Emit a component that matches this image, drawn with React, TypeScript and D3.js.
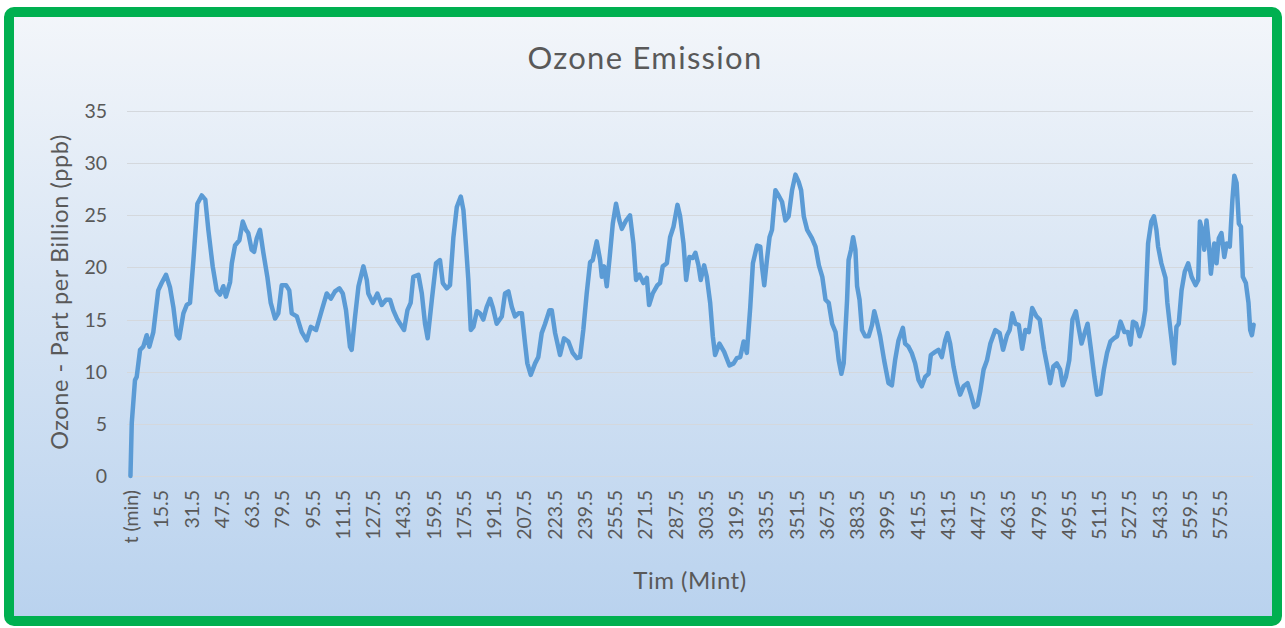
import React, { useEffect, useRef } from "react";
import * as d3 from "d3";

// readings taken off the chart: time (min) and ozone (ppb)
const minutes = [
  0, 0.7, 2.4, 3.3, 5.1, 6.8, 8.6, 10, 12.1, 14.7, 16.5, 18.8, 20.9, 22.7, 24.5, 25.8, 28, 29.8, 31.5, 33.3,
  35.4, 37.7, 39.6, 41.2, 43.5, 45.6, 47.4, 49.1, 50.5, 52.7, 53.6, 55.3, 57.6, 59.4, 61.1, 62.3, 64.1, 65.4,
  66.8, 68.5, 70.3, 72.4, 74.2, 76.5, 78.2, 80, 82.3, 84, 85.3, 88, 90.6, 93.2, 95.4, 98.2, 101.2, 103.8, 106,
  108.2, 110.5, 112.3, 114, 116.1, 117, 118.8, 120.6, 123.2, 125, 125.8, 128.2, 130.6, 132.9, 135.2, 137.3,
  139, 141.2, 142.6, 144.7, 146.5, 148.2, 149.6, 152.3, 154.1, 155.8, 157.2, 159.4, 161.6, 163.7, 165.2,
  167.3, 169, 170.8, 172.6, 174.7, 176.1, 177.5, 178.7, 180, 181.4, 183.2, 184.9, 186.6, 188.4, 190.2, 191.6,
  193.7, 196.4, 198.1, 199.9, 201.7, 203.4, 205.2, 207, 208.7, 209.9, 211.7, 214, 215.7, 217.5, 219.3, 221.6,
  222.8, 224.6, 227.2, 229.3, 231.6, 233.9, 236.1, 237.8, 239.5, 241.3, 243.1, 244.5, 246.6, 248.4, 249.3,
  250.5, 251.9, 253.3, 255.1, 256.8, 258.6, 259.9, 262.1, 264.2, 266, 267.4, 269.2, 271.3, 273.1, 274.3,
  276.2, 278.7, 280.1, 281.5, 283.7, 285.4, 287.2, 289.3, 290.7, 292.5, 293.9, 295.6, 297.4, 298.8, 300.4,
  301.6, 303.4, 304.8, 306.6, 308, 309.2, 311.5, 314, 316.8, 319, 320.7, 322.5, 324.3, 326, 327.8, 329.2,
  331.4, 333.1, 334, 335.2, 336.6, 338, 339.3, 341.1, 342.8, 344.6, 346.4, 348.1, 349.9, 351.7, 353.4, 354.7,
  356.1, 357.9, 360.4, 362.3, 364.1, 365.9, 367.6, 369.3, 371.1, 372.9, 374.6, 376, 377.2, 379, 379.8, 381.1,
  382.2, 383.4, 384.3, 385.6, 386.9, 388.6, 390.4, 392.2, 393.4, 394.8, 396.5, 398.6, 400.9, 402.7, 404.4,
  406.2, 408.5, 409.7, 411.5, 413.2, 415, 416.8, 418.5, 420.3, 422.1, 423.3, 425.6, 427.3, 429.1, 430.9,
  432.1, 433.5, 435.3, 437.1, 438.8, 440.6, 442.7, 444.5, 446.3, 448, 449.5, 451.2, 453, 454.8, 457.4, 459.7,
  461.5, 463.6, 465, 466.4, 468, 469.8, 471.6, 473.3, 475.1, 476.9, 479.2, 480.9, 483.2, 484.9, 486.4, 488.1,
  489.9, 491.7, 493.1, 494.7, 496.5, 498.2, 500, 501.7, 503, 504.8, 506.2, 508, 509.8, 511.2, 513, 514.8,
  516.5, 518.3, 520.1, 521.8, 523.6, 525.7, 527.5, 528.9, 530.2, 531.9, 533.7, 535.5, 536.7, 538.2, 539.9,
  541.3, 542.6, 543.5, 545.2, 547.4, 548.4, 550.2, 552, 553.2, 554.4, 555.9, 557.6, 559.4, 561.2, 563.3,
  564.7, 565.6, 566.8, 567.9, 569.1, 570.3, 571.4, 573.2, 574.4, 575.6, 577, 578.5, 579.8, 581.4, 582.8,
  583.8, 585, 586.2, 587.3, 588.3, 589.9, 591.3, 592.2, 593.1, 594,
];

const ozone = [
  0, 5.1, 9.2, 9.5, 12.1, 12.4, 13.5, 12.4, 13.8, 17.8, 18.5, 19.3, 18.1, 16.2, 13.5, 13.2, 15.6, 16.4, 16.6, 20.7,
  26.1, 26.9, 26.5, 23.6, 20.1, 17.8, 17.4, 18.2, 17.2, 18.6, 20.4, 22.1, 22.6, 24.4, 23.6, 23.3, 21.7, 21.5,
  22.8, 23.6, 21.4, 19.1, 16.6, 15.1, 15.6, 18.3, 18.3, 17.8, 15.6, 15.3, 13.8, 13.0, 14.3, 14.0, 15.9, 17.5, 17.0,
  17.7, 18.0, 17.5, 15.9, 12.4, 12.1, 15.3, 18.2, 20.1, 18.8, 17.5, 16.6, 17.5, 16.4, 16.9, 16.9,
  15.9, 15.0, 14.6, 14.0, 15.9, 16.6, 19.1, 19.3, 17.5, 14.6, 13.2, 16.9, 20.4, 20.7, 18.5,
  18.0, 18.3, 22.9, 25.8, 26.8, 25.5, 22.0, 18.8, 14.0, 14.3, 15.8, 15.6, 15.0, 16.2, 17.0, 16.2,
  14.6, 15.3, 17.5, 17.7, 16.2, 15.3, 15.6, 15.6, 12.7, 10.8, 9.7, 10.8, 11.4, 13.7, 14.6, 15.9,
  15.9, 13.7, 11.6, 13.2, 12.9, 11.8, 11.3, 11.4, 14.0, 17.5, 20.5, 20.7, 22.5, 20.7, 19.1,
  20.1, 18.2, 20.7, 24.2, 26.1, 24.5, 23.7, 24.5, 25.0, 22.3, 18.8, 19.3, 18.5, 19.0, 16.4,
  17.5, 18.3, 18.5, 20.1, 20.4, 22.9, 23.9, 26.0, 24.9, 22.3, 18.8, 21.0, 20.9, 21.4, 20.2,
  18.8, 20.2, 19.1, 16.6, 13.4, 11.6, 12.7, 11.9, 10.6, 10.8, 11.3, 11.4, 12.9, 11.8, 16.2, 20.4,
  22.1, 22.0, 20.1, 18.3, 20.7, 22.9, 23.6, 27.4, 26.9, 26.3, 24.5, 24.9, 27.4, 28.9, 28.2, 27.4,
  24.9, 23.6, 22.8, 22.0, 20.2, 19.1, 16.9, 16.6, 14.6, 13.8, 11.1, 9.8, 10.8, 16.9, 20.7, 21.7,
  22.9, 21.7, 18.2, 16.9, 14.0, 13.4, 13.4, 14.5, 15.8, 14.8, 13.4, 11.1, 8.9, 8.7, 11.1,
  13.0, 14.2, 12.7, 12.4, 11.8, 10.8, 9.2, 8.6, 9.5, 9.8, 11.6, 11.9, 12.1, 11.4, 13.0,
  13.7, 12.7, 10.5, 8.9, 7.8, 8.6, 8.9, 7.8, 6.6, 6.8, 8.2, 10.2, 11.1, 12.7, 14.0, 13.7,
  12.1, 13.5, 14.0, 15.6, 14.6, 14.5, 12.2, 14.0, 13.8, 16.1, 15.3, 15.0, 12.1, 10.5, 8.9, 10.5,
  10.8, 10.2, 8.7, 9.5, 11.1, 15.0, 15.8, 14.0, 12.7, 13.8, 14.6, 12.1, 9.5, 7.8, 7.9, 10.2,
  11.8, 12.9, 13.2, 13.4, 14.8, 13.8, 13.8, 12.6, 14.8, 14.6, 13.4, 14.5, 15.9, 22.3, 24.4,
  24.9, 23.6, 22.0, 20.4, 19.0, 16.6, 13.7, 10.8, 14.3, 14.6, 17.8, 19.6, 20.4, 19.1, 18.3,
  18.8, 24.4, 23.6, 21.7, 24.5, 22.3, 19.4, 22.3, 20.4, 22.8, 23.3, 21.0, 22.3, 22.0, 26.5,
  28.8, 28.1, 24.2, 23.9, 19.1, 18.5, 16.6, 14.0, 13.5, 14.5,
];

const tickLabels = [
  "t (min)", "15.5", "31.5", "47.5", "63.5", "79.5", "95.5", "111.5", "127.5", "143.5", "159.5", "175.5",
  "191.5", "207.5", "223.5", "239.5", "255.5", "271.5", "287.5", "303.5", "319.5", "335.5", "351.5",
  "367.5", "383.5", "399.5", "415.5", "431.5", "447.5", "463.5", "479.5", "495.5", "511.5", "527.5",
  "543.5", "559.5", "575.5",
];

const yTicks = [0, 5, 10, 15, 20, 25, 30, 35];

const W = 1285;
const H = 628;
const FONT = "Lato, 'Open Sans', sans-serif";
const TEXT = "#595959";

export default function App() {
  const svgRef = useRef<SVGSVGElement>(null);

  useEffect(() => {
    const svg = d3.select(svgRef.current);
    svg.selectChildren().remove();

    const plot = { left: 127, right: 1253, top: 111, bottom: 476 };

    // header row sits half a minute before 0
    const x = d3.scaleLinear().domain([-0.5, 594]).range([129.5, 1253.6]);
    const y = d3.scaleLinear().domain([0, 35]).range([plot.bottom, plot.top]);

    const defs = svg.append("defs");
    const grad = defs
      .append("linearGradient")
      .attr("id", "bg")
      .attr("x1", 0)
      .attr("y1", 0)
      .attr("x2", 0)
      .attr("y2", 1);
    grad.append("stop").attr("offset", "0%").attr("stop-color", "#f3f6fa");
    grad.append("stop").attr("offset", "45%").attr("stop-color", "#d8e5f4");
    grad.append("stop").attr("offset", "100%").attr("stop-color", "#b9d2ee");

    svg.append("rect").attr("width", W).attr("height", H).attr("fill", "#ffffff");

    svg
      .append("rect")
      .attr("x", 9)
      .attr("y", 12)
      .attr("width", 1268)
      .attr("height", 609)
      .attr("rx", 5)
      .attr("fill", "url(#bg)")
      .attr("stroke", "#00b050")
      .attr("stroke-width", 10);

    // gridlines
    svg
      .append("g")
      .selectAll("line")
      .data(yTicks)
      .enter()
      .append("line")
      .attr("x1", plot.left)
      .attr("x2", plot.right)
      .attr("y1", (d) => Math.round(y(d)) + 0.5)
      .attr("y2", (d) => Math.round(y(d)) + 0.5)
      .attr("stroke", "#d4d8dd")
      .attr("stroke-width", 1);

    // y labels
    svg
      .append("g")
      .selectAll("text")
      .data(yTicks)
      .enter()
      .append("text")
      .attr("x", 107)
      .attr("y", (d) => y(d))
      .attr("dy", "0.36em")
      .attr("text-anchor", "end")
      .attr("font-family", FONT)
      .attr("font-size", 19.5)
      .attr("fill", TEXT)
      .text((d) => d);

    // x labels
    svg
      .append("g")
      .selectAll("text")
      .data(tickLabels)
      .enter()
      .append("text")
      .attr("transform", (d, i) => {
        const t = i === 0 ? -0.5 : parseFloat(d);
        return `translate(${x(t) + 1.5}, 490) rotate(-90)`;
      })
      .attr("dy", "0.36em")
      .attr("text-anchor", "end")
      .attr("font-family", FONT)
      .attr("font-size", 19.5)
      .attr("fill", TEXT)
      .text((d) => d);

    const line = d3
      .line<number>()
      .x((d, i) => x(minutes[i]))
      .y((d) => y(d));

    svg
      .append("path")
      .datum(ozone)
      .attr("d", line)
      .attr("fill", "none")
      .attr("stroke", "#5b9bd5")
      .attr("stroke-width", 4.5)
      .attr("stroke-linejoin", "round")
      .attr("stroke-linecap", "round");

    svg
      .append("text")
      .attr("x", 645)
      .attr("y", 69)
      .attr("text-anchor", "middle")
      .attr("font-family", FONT)
      .attr("font-size", 31)
      .attr("letter-spacing", 1.3)
      .attr("fill", TEXT)
      .text("Ozone Emission");

    svg
      .append("text")
      .attr("transform", `translate(60, 292) rotate(-90)`)
      .attr("dy", "0.36em")
      .attr("text-anchor", "middle")
      .attr("font-family", FONT)
      .attr("font-size", 23.5)
      .attr("letter-spacing", 0.6)
      .attr("fill", TEXT)
      .text("Ozone - Part per Billion (ppb)");

    svg
      .append("text")
      .attr("x", 690)
      .attr("y", 580)
      .attr("dy", "0.36em")
      .attr("text-anchor", "middle")
      .attr("font-family", FONT)
      .attr("font-size", 24)
      .attr("letter-spacing", 0.5)
      .attr("fill", TEXT)
      .text("Tim (Mint)");
  }, []);

  return (
    <div style={{ position: "absolute", left: 0, top: 0 }}>
      <svg ref={svgRef} width={W} height={H} style={{ display: "block" }} />
    </div>
  );
}
